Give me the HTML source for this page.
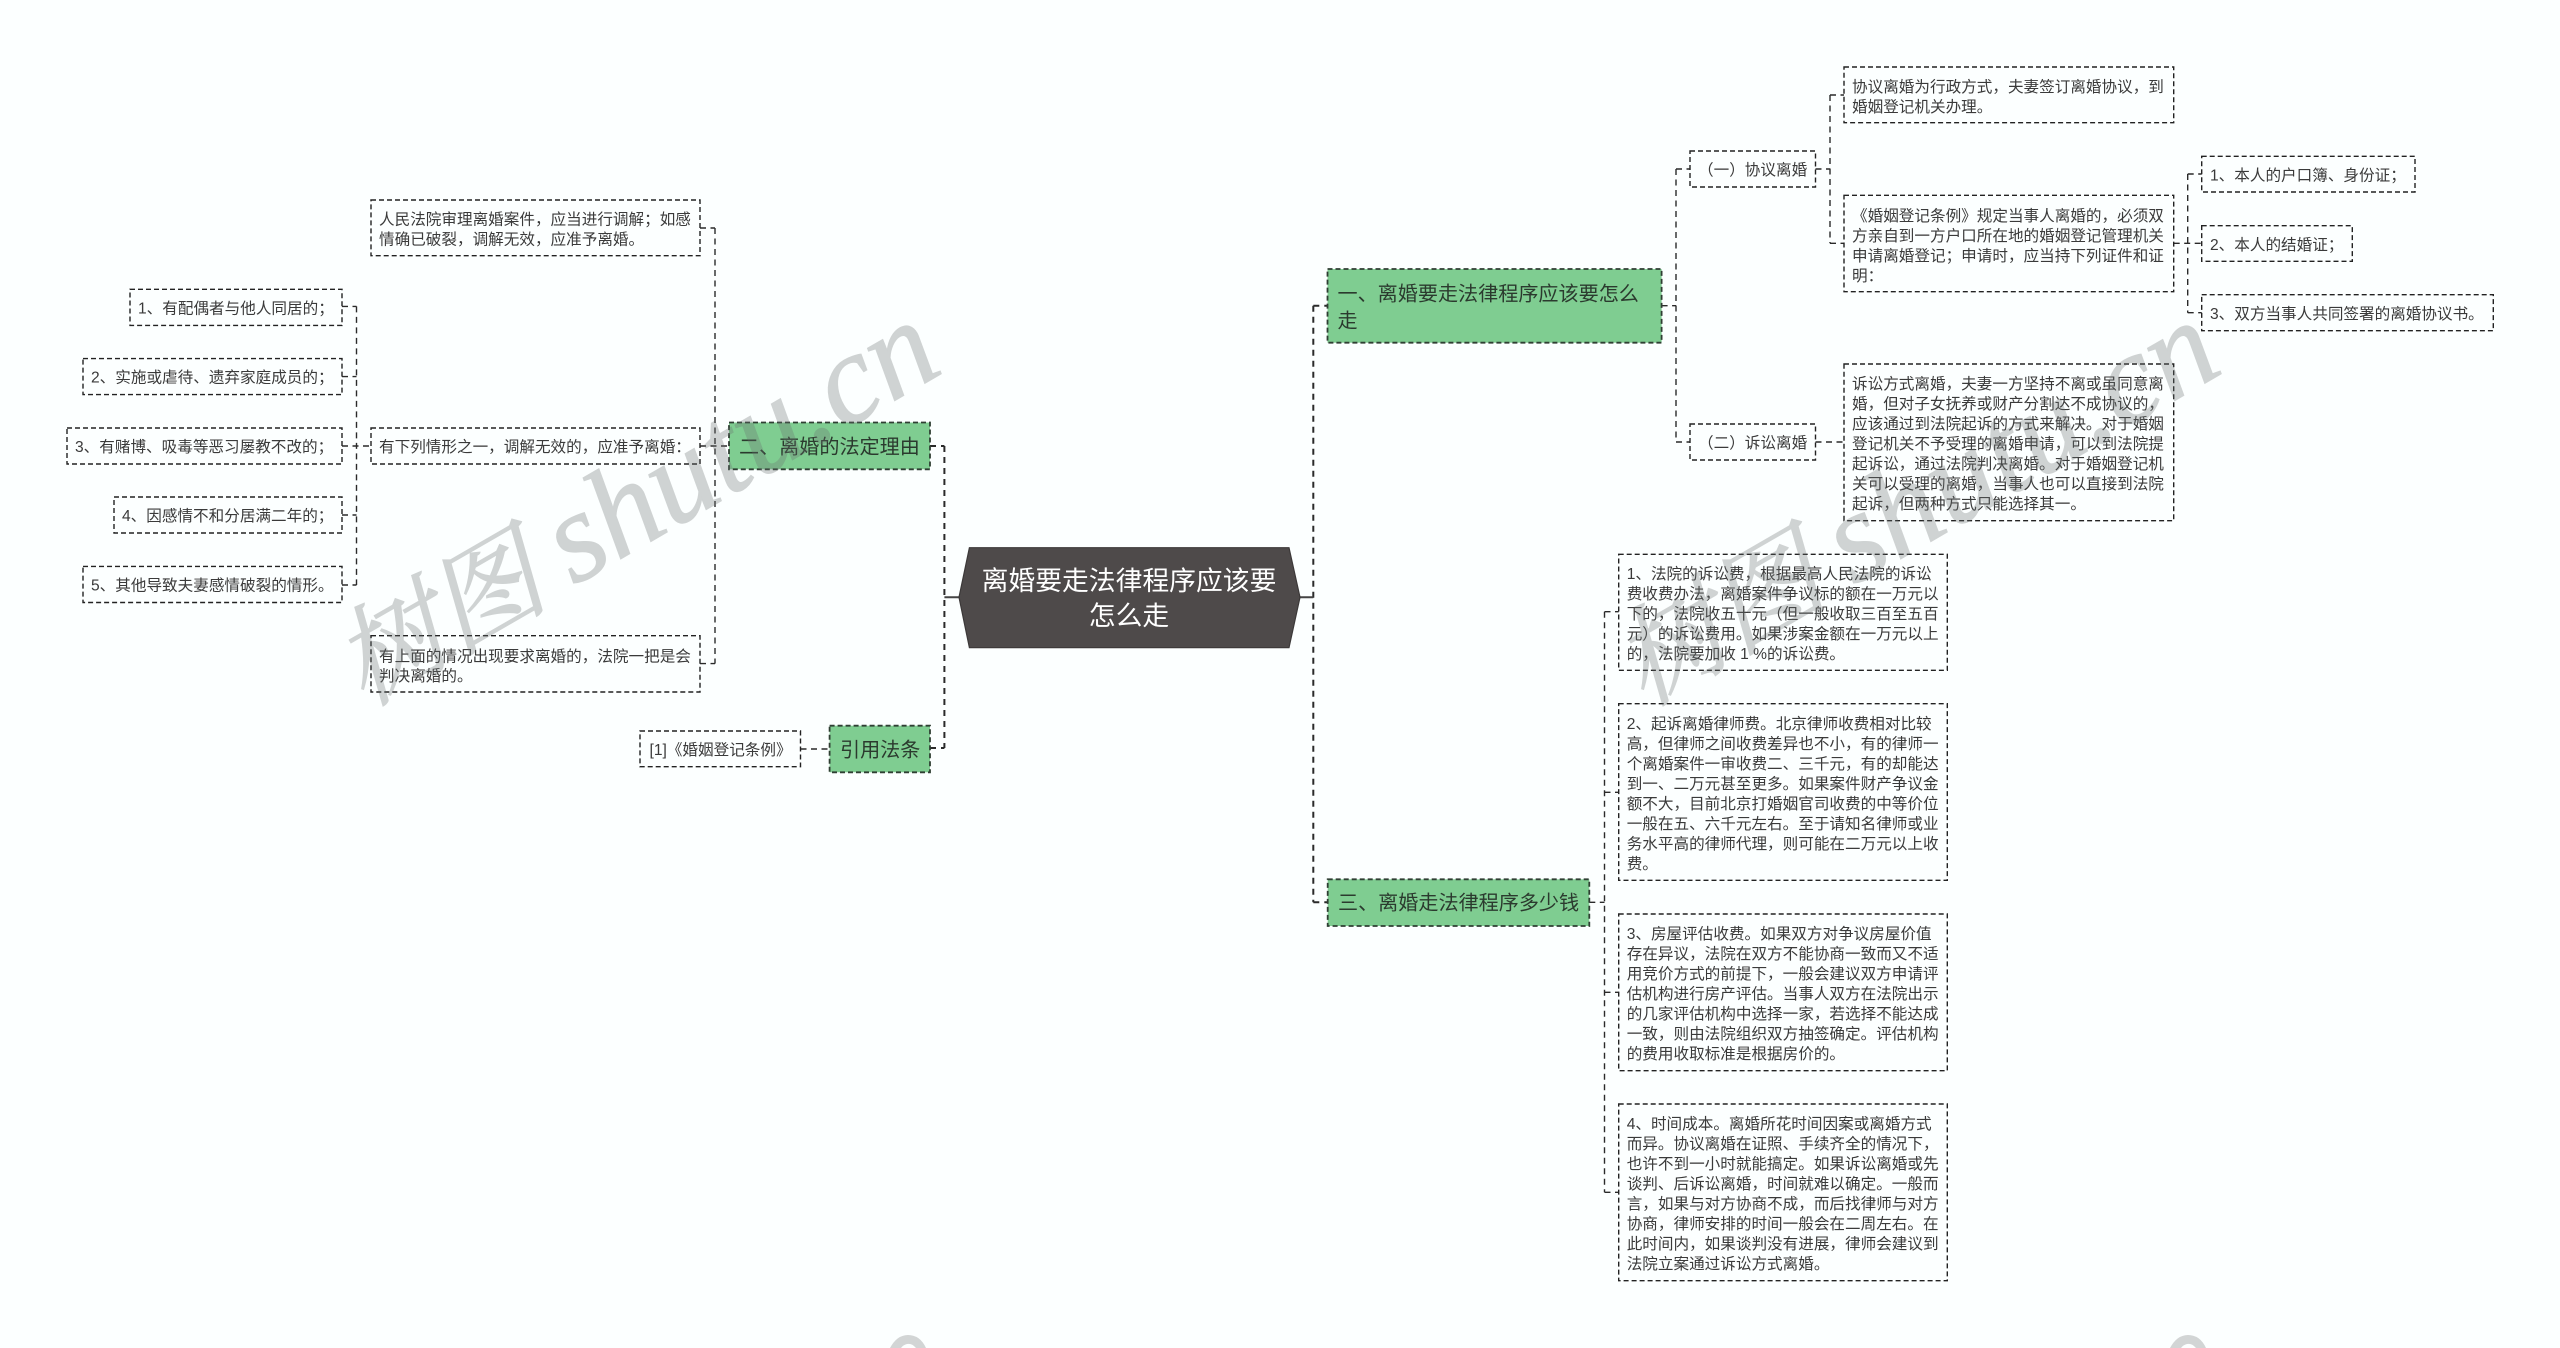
<!DOCTYPE html>
<html lang="zh-CN">
<head>
<meta charset="utf-8">
<title>离婚要走法律程序应该要怎么走</title>
<style>
html,body{margin:0;padding:0;background:#fcffff;width:2560px;height:1348px;overflow:hidden}
svg{display:block}
text{font-family:"Liberation Sans","Noto Sans CJK SC",sans-serif}
.t{font-size:15.6px;fill:#3a3a3a}
.g{font-size:20.1px;fill:#2b3a2e}
.r{font-size:26.8px;fill:#fff;text-anchor:middle}
.b{fill:none;stroke:#222;stroke-width:1.4;stroke-dasharray:5 3}
.gb{fill:#7fcd91;stroke:#2f3f33;stroke-width:1.8;stroke-dasharray:5 3}
.c{fill:none;stroke:#2a2a2a;stroke-width:1.4;stroke-dasharray:6 4.5}
.m{fill:none;stroke:#2a2a2a;stroke-width:2;stroke-dasharray:6 5}
.wm{opacity:.3}
.w{font-family:"Liberation Serif","Noto Serif CJK SC",serif;font-style:italic;font-size:128px;fill:#696f6f;stroke:#696f6f;stroke-width:1.2}
.w .cj{font-size:108px}
</style>
</head>
<body>
<svg xmlns="http://www.w3.org/2000/svg" width="2560" height="1348" viewBox="0 0 2560 1348">
<!-- connectors -->
<path class="m" d="M944.4 446V748M1313.3 305.7V902.3"/>
<path class="m" d="M930 446H944.4M930 748H944.4M1313.3 305.7H1327.5M1313.3 902.3H1327.5"/>
<path d="M944.4 597.3H959M1300 597.3H1313.3" stroke="#444" stroke-width="2" fill="none"/>
<path class="c" d="M715 228V663.6"/>
<path class="c" d="M700 228H715M700 446H729M700 663.6H715"/>
<path class="c" d="M356.5 306.4V585"/>
<path class="c" d="M342 306.4H356.5M342 376.6H356.5M342 446H371M342 515H356.5M342 585H356.5"/>
<path class="c" d="M800.5 749H829.6"/>
<path class="c" d="M1676 169V442"/>
<path class="c" d="M1661.6 305.7H1676M1676 169H1690M1676 442H1690"/>
<path class="c" d="M1830 95V243.3"/>
<path class="c" d="M1815.5 169H1830M1830 95H1844M1830 243.3H1844M1815.5 442H1844"/>
<path class="c" d="M2187.7 174V312.7"/>
<path class="c" d="M2173.7 243.3H2201.7M2187.7 174H2201.7M2187.7 312.7H2201.7"/>
<path class="c" d="M1604.5 611.7V1192.3"/>
<path class="c" d="M1589.3 902.3H1604.5M1604.5 611.7H1618.7M1604.5 792.3H1618.7M1604.5 992.3H1618.7M1604.5 1192.3H1618.7"/>

<!-- root -->
<polygon points="969.4,547.7 1289,547.7 1300,597.3 1289,647.7 969.4,647.7 959,597.3" fill="#4e4a4a" stroke="#3c3939" stroke-width="1.2"/>
<text class="r" x="1129" y="590">离婚要走法律程序应该要</text>
<text class="r" x="1129" y="625">怎么走</text>

<!-- green nodes -->
<rect class="gb" x="729" y="422.5" width="201" height="46.8"/>
<text class="g" x="739" y="453.6">二、离婚的法定理由</text>
<rect class="gb" x="829.6" y="725.7" width="100.4" height="46.6"/>
<text class="g" x="840" y="756.6">引用法条</text>
<rect class="gb" x="1327.5" y="269" width="334.1" height="73.7"/>
<text class="g" x="1337.5" y="300.6">一、离婚要走法律程序应该要怎么</text>
<text class="g" x="1337.5" y="327.6">走</text>
<rect class="gb" x="1327.7" y="879.3" width="261.6" height="46.7"/>
<text class="g" x="1338" y="909.6">三、离婚走法律程序多少钱</text>

<!-- left boxes -->
<rect class="b" x="371" y="200" width="329" height="55.7"/>
<text class="t" x="379" y="224.6">人民法院审理离婚案件，应当进行调解；如感</text>
<text class="t" x="379" y="244.6">情确已破裂，调解无效，应准予离婚。</text>
<rect class="b" x="371" y="428" width="329" height="36"/>
<text class="t" x="379" y="451.9">有下列情形之一，调解无效的，应准予离婚：</text>
<rect class="b" x="371" y="635.7" width="329" height="56.3"/>
<text class="t" x="379" y="661.6">有上面的情况出现要求离婚的，法院一把是会</text>
<text class="t" x="379" y="681.2">判决离婚的。</text>
<rect class="b" x="130" y="289.3" width="212" height="36.1"/>
<text class="t" x="138" y="313.4">1、有配偶者与他人同居的；</text>
<rect class="b" x="83" y="358.6" width="259" height="36"/>
<text class="t" x="91" y="382.5">2、实施或虐待、遗弃家庭成员的；</text>
<rect class="b" x="67" y="428" width="275" height="36"/>
<text class="t" x="75" y="451.9">3、有赌博、吸毒等恶习屡教不改的；</text>
<rect class="b" x="114" y="497" width="228" height="36"/>
<text class="t" x="122" y="520.9">4、因感情不和分居满二年的；</text>
<rect class="b" x="83" y="566.4" width="259" height="36.1"/>
<text class="t" x="91" y="590.4">5、其他导致夫妻感情破裂的情形。</text>
<rect class="b" x="640" y="731" width="160.5" height="35.7"/>
<text class="t" x="649.5" y="754.9">[1]《婚姻登记条例》</text>

<!-- right top boxes -->
<rect class="b" x="1690" y="151" width="125.5" height="36"/>
<text class="t" x="1698" y="174.9">（一）协议离婚</text>
<rect class="b" x="1690" y="424" width="125.5" height="36"/>
<text class="t" x="1698" y="447.9">（二）诉讼离婚</text>
<rect class="b" x="1844" y="67" width="329.7" height="55.7"/>
<text class="t" x="1852" y="91.8">协议离婚为行政方式，夫妻签订离婚协议，到</text>
<text class="t" x="1852" y="111.8">婚姻登记机关办理。</text>
<rect class="b" x="1844" y="195.3" width="329.7" height="96.4"/>
<text class="t" x="1852" y="220.9">《婚姻登记条例》规定当事人离婚的，必须双</text>
<text class="t" x="1852" y="240.9">方亲自到一方户口所在地的婚姻登记管理机关</text>
<text class="t" x="1852" y="260.9">申请离婚登记；申请时，应当持下列证件和证</text>
<text class="t" x="1852" y="280.9">明：</text>
<rect class="b" x="1844" y="364" width="329.7" height="156.7"/>
<text class="t" x="1852" y="389.2">诉讼方式离婚，夫妻一方坚持不离或虽同意离</text>
<text class="t" x="1852" y="409.2">婚，但对子女抚养或财产分割达不成协议的，</text>
<text class="t" x="1852" y="429.2">应该通过到法院起诉的方式来解决。对于婚姻</text>
<text class="t" x="1852" y="449.2">登记机关不予受理的离婚申请，可以到法院提</text>
<text class="t" x="1852" y="469.2">起诉讼，通过法院判决离婚。对于婚姻登记机</text>
<text class="t" x="1852" y="489.2">关可以受理的离婚，当事人也可以直接到法院</text>
<text class="t" x="1852" y="509.2">起诉，但两种方式只能选择其一。</text>
<rect class="b" x="2201.7" y="156.3" width="213.3" height="35.7"/>
<text class="t" x="2210" y="180.6">1、本人的户口簿、身份证；</text>
<rect class="b" x="2201.7" y="225.7" width="150.6" height="35.6"/>
<text class="t" x="2210" y="250">2、本人的结婚证；</text>
<rect class="b" x="2201.7" y="294.7" width="291.6" height="36"/>
<text class="t" x="2210" y="319.2">3、双方当事人共同签署的离婚协议书。</text>

<!-- right lower boxes -->
<rect class="b" x="1618.7" y="554.3" width="328.6" height="116"/>
<text class="t" x="1626.7" y="579.2">1、法院的诉讼费，根据最高人民法院的诉讼</text>
<text class="t" x="1626.7" y="599.2">费收费办法，离婚案件争议标的额在一万元以</text>
<text class="t" x="1626.7" y="619.2">下的，法院收五十元（但一般收取三百至五百</text>
<text class="t" x="1626.7" y="639.2">元）的诉讼费用。如果涉案金额在一万元以上</text>
<text class="t" x="1626.7" y="659.2">的，法院要加收 1 %的诉讼费。</text>
<rect class="b" x="1618.7" y="703.7" width="328.6" height="176.6"/>
<text class="t" x="1626.7" y="729.2">2、起诉离婚律师费。北京律师收费相对比较</text>
<text class="t" x="1626.7" y="749.2">高，但律师之间收费差异也不小，有的律师一</text>
<text class="t" x="1626.7" y="769.2">个离婚案件一审收费二、三千元，有的却能达</text>
<text class="t" x="1626.7" y="789.2">到一、二万元甚至更多。如果案件财产争议金</text>
<text class="t" x="1626.7" y="809.2">额不大，目前北京打婚姻官司收费的中等价位</text>
<text class="t" x="1626.7" y="829.2">一般在五、六千元左右。至于请知名律师或业</text>
<text class="t" x="1626.7" y="849.2">务水平高的律师代理，则可能在二万元以上收</text>
<text class="t" x="1626.7" y="869.2">费。</text>
<rect class="b" x="1618.7" y="914" width="328.6" height="156.7"/>
<text class="t" x="1626.7" y="939.2">3、房屋评估收费。如果双方对争议房屋价值</text>
<text class="t" x="1626.7" y="959.2">存在异议，法院在双方不能协商一致而又不适</text>
<text class="t" x="1626.7" y="979.2">用竞价方式的前提下，一般会建议双方申请评</text>
<text class="t" x="1626.7" y="999.2">估机构进行房产评估。当事人双方在法院出示</text>
<text class="t" x="1626.7" y="1019.2">的几家评估机构中选择一家，若选择不能达成</text>
<text class="t" x="1626.7" y="1039.2">一致，则由法院组织双方抽签确定。评估机构</text>
<text class="t" x="1626.7" y="1059.2">的费用收取标准是根据房价的。</text>
<rect class="b" x="1618.7" y="1104" width="328.6" height="176.7"/>
<text class="t" x="1626.7" y="1129.2">4、时间成本。离婚所花时间因案或离婚方式</text>
<text class="t" x="1626.7" y="1149.2">而异。协议离婚在证照、手续齐全的情况下，</text>
<text class="t" x="1626.7" y="1169.2">也许不到一小时就能搞定。如果诉讼离婚或先</text>
<text class="t" x="1626.7" y="1189.2">谈判、后诉讼离婚，时间就难以确定。一般而</text>
<text class="t" x="1626.7" y="1209.2">言，如果与对方协商不成，而后找律师与对方</text>
<text class="t" x="1626.7" y="1229.2">协商，律师安排的时间一般会在二周左右。在</text>
<text class="t" x="1626.7" y="1249.2">此时间内，如果谈判没有进展，律师会建议到</text>
<text class="t" x="1626.7" y="1269.2">法院立案通过诉讼方式离婚。</text>

<!-- watermarks -->
<g class="wm" transform="translate(364,707) rotate(-30)"><text class="w"><tspan class="cj">树图</tspan> <tspan x="242">shutu.cn</tspan></text></g>
<g class="wm" transform="translate(1644,707) rotate(-30)"><text class="w"><tspan class="cj">树图</tspan> <tspan x="242">shutu.cn</tspan></text></g>
<!-- tops of the next watermark row, cut by the bottom edge -->
<path d="M890 1348 Q897 1335 908 1335 Q920 1335 926 1348 H916 Q912 1343 907 1344 Q903 1345 901 1348Z" fill="#d2d5d5"/>
<path d="M2170 1348 Q2177 1335 2188 1335 Q2200 1335 2206 1348 H2196 Q2192 1343 2187 1344 Q2183 1345 2181 1348Z" fill="#d2d5d5"/>
</svg>
</body>
</html>
